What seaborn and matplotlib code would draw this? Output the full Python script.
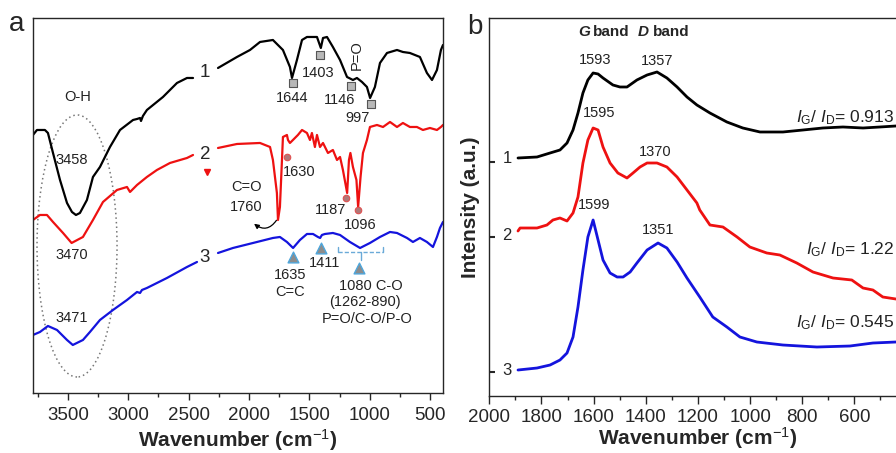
import matplotlib
matplotlib.use("Agg")
import matplotlib.pyplot as plt
from matplotlib.patches import Ellipse
from matplotlib.ticker import MultipleLocator
import pandas as pd
import seaborn as sns

# ---- panel a: FTIR, wavenumber (cm-1) vs transmittance (a.u., stacked) ----
ftir_wn_1 = [3790, 3757, 3691, 3666, 3624, 3566, 3508, 3467, 3434, 3401, 3343, 3293, 3235, 3152, 3069,
             2961, 2928, 2903, 2895, 2879, 2846, 2713, 2597, 2514, 2464, 2257, 2100, 1992, 1909, 1802,
             1719, 1661, 1644, 1603, 1561, 1520, 1437, 1405, 1387, 1354, 1305, 1246, 1188, 1139, 1106,
             1064, 1023, 997, 957, 915, 857, 774, 725, 667, 584, 526, 484, 443, 410, 393]
ftir_t_1 = [2.58, 2.63, 2.63, 2.60, 2.40, 2.13, 1.90, 1.81, 1.78, 1.80, 1.93, 2.16, 2.26, 2.46, 2.63,
            2.73, 2.74, 2.75, 2.72, 2.77, 2.83, 2.96, 3.10, 3.15, 3.15, 3.25, 3.36, 3.43, 3.51, 3.53,
            3.43, 3.26, 3.15, 3.33, 3.53, 3.56, 3.56, 3.45, 3.55, 3.56, 3.46, 3.33, 3.16, 3.13, 3.15,
            3.11, 3.06, 2.95, 3.06, 3.30, 3.40, 3.43, 3.41, 3.40, 3.36, 3.20, 3.13, 3.23, 3.43, 3.48]

ftir_wn_2 = [3790, 3732, 3674, 3624, 3541, 3470, 3376, 3293, 3210, 3094, 3011, 2986, 2928, 2846, 2763,
             2655, 2514, 2464, 2257, 2100, 1909, 1826, 1802, 1769, 1760, 1744, 1727, 1719, 1686, 1677,
             1661, 1636, 1595, 1561, 1520, 1495, 1479, 1454, 1437, 1412, 1387, 1346, 1305, 1271, 1246,
             1222, 1187, 1172, 1160, 1139, 1110, 1096, 1076, 1056, 1023, 998, 940, 890, 832, 774,
             725, 667, 609, 559, 501, 443, 410, 393]
ftir_t_2 = [1.73, 1.78, 1.78, 1.71, 1.60, 1.50, 1.56, 1.73, 1.91, 2.03, 2.06, 2.01, 2.08, 2.16, 2.23,
            2.30, 2.35, 2.38, 2.45, 2.49, 2.50, 2.46, 2.33, 2.00, 1.73, 1.86, 2.33, 2.56, 2.58, 2.53,
            2.50, 2.53, 2.58, 2.63, 2.60, 2.53, 2.60, 2.46, 2.58, 2.46, 2.50, 2.40, 2.43, 2.33, 2.36,
            2.23, 2.00, 2.33, 2.40, 2.26, 2.13, 1.86, 2.16, 2.40, 2.53, 2.66, 2.68, 2.66, 2.71, 2.66,
            2.70, 2.66, 2.66, 2.63, 2.65, 2.63, 2.66, 2.68]

ftir_wn_3 = [3790, 3732, 3666, 3591, 3508, 3460, 3376, 3318, 3235, 3127, 3011, 2928, 2903, 2887, 2846,
             2680, 2514, 2431, 2257, 2133, 1967, 1802, 1744, 1686, 1635, 1578, 1520, 1470, 1429, 1411,
             1396, 1371, 1305, 1246, 1164, 1080, 998, 915, 832, 774, 691, 642, 584, 526, 476,
             443, 418, 393]
ftir_t_3 = [0.58, 0.61, 0.67, 0.63, 0.53, 0.48, 0.53, 0.61, 0.73, 0.83, 0.93, 1.01, 1.00, 1.03, 1.05,
            1.15, 1.26, 1.31, 1.40, 1.45, 1.50, 1.55, 1.56, 1.51, 1.45, 1.53, 1.59, 1.59, 1.56, 1.55,
            1.58, 1.59, 1.60, 1.58, 1.51, 1.45, 1.50, 1.56, 1.61, 1.60, 1.55, 1.51, 1.55, 1.51, 1.46,
            1.56, 1.65, 1.71]

# ---- panel b: Raman, wavenumber (cm-1) vs intensity (a.u., stacked) ----
raman_wn_1 = [1890, 1817, 1767, 1729, 1702, 1679, 1660, 1641, 1622, 1602, 1583, 1564, 1526, 1499, 1472,
              1434, 1395, 1357, 1319, 1280, 1242, 1204, 1154, 1089, 1028, 962, 874, 797, 721, 644,
              567, 502, 441, 400]
raman_i_1 = [2.38, 2.39, 2.43, 2.46, 2.53, 2.66, 2.83, 3.03, 3.16, 3.23, 3.22, 3.18, 3.11, 3.09, 3.09,
             3.16, 3.21, 3.24, 3.18, 3.09, 2.99, 2.91, 2.83, 2.74, 2.68, 2.64, 2.64, 2.66, 2.68, 2.69,
             2.68, 2.69, 2.70, 2.70]

raman_wn_2 = [1890, 1882, 1817, 1779, 1756, 1729, 1702, 1679, 1660, 1641, 1622, 1602, 1583, 1564, 1537,
              1507, 1472, 1449, 1422, 1395, 1357, 1319, 1280, 1242, 1204, 1193, 1154, 1104, 1050, 1001,
              936, 886, 821, 759, 682, 610, 567, 529, 491, 441, 400]
raman_i_2 = [1.65, 1.68, 1.68, 1.71, 1.76, 1.78, 1.75, 1.83, 1.99, 2.33, 2.56, 2.68, 2.66, 2.49, 2.33,
             2.23, 2.18, 2.23, 2.29, 2.33, 2.33, 2.29, 2.19, 2.06, 1.93, 1.86, 1.71, 1.69, 1.59, 1.49,
             1.43, 1.41, 1.33, 1.24, 1.18, 1.16, 1.08, 1.06, 0.99, 0.97, 0.96]

raman_wn_3 = [1890, 1817, 1767, 1729, 1702, 1679, 1660, 1641, 1622, 1602, 1583, 1564, 1537, 1510, 1487,
              1460, 1434, 1395, 1353, 1319, 1280, 1242, 1193, 1143, 1089, 1039, 974, 874, 744, 617,
              529, 441, 400]
raman_i_3 = [0.26, 0.28, 0.31, 0.36, 0.43, 0.59, 0.89, 1.26, 1.59, 1.76, 1.56, 1.36, 1.23, 1.19, 1.19,
             1.24, 1.33, 1.46, 1.53, 1.48, 1.34, 1.18, 0.99, 0.79, 0.69, 0.59, 0.54, 0.51, 0.49, 0.50,
             0.53, 0.54, 0.55]

raman_ticks = [2000, 1800, 1600, 1400, 1200, 1000, 800, 600]
ratio_labels = ["0.913", "1.22", "0.545"]
colors = ["black", "#ee1111", "#1414dd"]

sns.set_style("ticks")
plt.rcParams["font.family"] = ["Liberation Sans", "DejaVu Sans"]
plt.rcParams["mathtext.fontset"] = "custom"
plt.rcParams["mathtext.rm"] = "Liberation Sans"
plt.rcParams["mathtext.it"] = "Liberation Sans:italic"
plt.rcParams["mathtext.bf"] = "Liberation Sans:bold"
plt.rcParams["axes.linewidth"] = 1.0

fig = plt.figure(figsize=(8.96, 4.53), dpi=100)
ax1 = fig.add_axes([0.0368, 0.1325, 0.4576, 0.8278])
ax2 = fig.add_axes([0.5461, 0.1258, 0.4657, 0.8345])

# === panel a ===
ftir = [(ftir_wn_1, ftir_t_1), (ftir_wn_2, ftir_t_2), (ftir_wn_3, ftir_t_3)]
for (wn, t), c in zip(ftir, colors):
    df = pd.DataFrame({"wn": wn, "t": t})
    df["seg"] = df["wn"] > 2350  # gap where the curve number sits
    sns.lineplot(data=df, x="wn", y="t", units="seg", estimator=None, sort=False,
                 color=c, lw=1.6, ax=ax1, legend=False)

ax1.set_xlim(3790, 393)
ax1.set_ylim(0, 3.75)
ax1.set_yticks([])
ax1.set_ylabel("")
ax1.xaxis.set_major_locator(MultipleLocator(500))
ax1.xaxis.set_minor_locator(MultipleLocator(250))
ax1.tick_params(axis="x", which="major", length=5, width=1, labelsize=13.5, pad=5)
ax1.tick_params(axis="x", which="minor", length=3, width=1)
ax1.set_xlabel("Wavenumber (cm$^{-1}$)", fontsize=15, fontweight="bold", labelpad=2)

fs = 10.5
for lab, y in zip(["1", "2", "3"], [3.20, 2.38, 1.35]):
    ax1.text(2365, y, lab, fontsize=13.5, ha="center", va="center")
ax1.plot(2348, 2.21, marker="v", color="#ee1111", ms=4)

ax1.add_patch(Ellipse((3425, 1.47), 663, 2.62, fill=False, ls=(0, (1, 2)), ec="#777777", lw=1.1))
ax1.text(3417, 2.96, "O-H", fontsize=fs, ha="center", va="center", color="#222222")
for lab, y in zip(["3458", "3470", "3471"], [2.33, 1.38, 0.75]):
    ax1.text(3467, y, lab, fontsize=fs, ha="center", va="center", color="#222222")

# curve 1 peaks
ax1.scatter([1636, 1412, 1155, 990], [3.10, 3.38, 3.07, 2.89], marker="s", s=40,
            facecolor="#b8b8b8", edgecolor="#555555", lw=0.8, zorder=5)
for lab, x, y in [("1644", 1644, 2.95), ("1403", 1429, 3.20), ("1146", 1247, 2.93), ("997", 1097, 2.75)]:
    ax1.text(x, y, lab, fontsize=fs, ha="center", va="center", color="#222222")
ax1.text(1106, 3.38, "P=O", fontsize=fs, ha="center", va="center", rotation=90, color="#222222")

# curve 2 peaks
ax1.scatter([1686, 1197, 1097], [2.36, 1.95, 1.83], marker="o", s=22,
            facecolor="#b07878", edgecolor="#e05050", lw=0.8, zorder=5)
for lab, x, y in [("1630", 1586, 2.21), ("1187", 1321, 1.83), ("1096", 1081, 1.68)]:
    ax1.text(x, y, lab, fontsize=fs, ha="center", va="center", color="#222222")
ax1.text(2025, 2.06, "C=O", fontsize=fs, ha="center", va="center", color="#222222")
ax1.text(2025, 1.86, "1760", fontsize=fs, ha="center", va="center", color="#222222")
ax1.annotate("", xy=(1976, 1.71), xytext=(1760, 1.75),
             arrowprops=dict(arrowstyle="-|>", connectionstyle="arc3,rad=-0.6",
                             color="black", lw=0.9, mutation_scale=7))

# curve 3 peaks
ax1.scatter([1636, 1404, 1089], [1.36, 1.45, 1.25], marker="^", s=60,
            facecolor="#8c8c8c", edgecolor="#4ea6dc", lw=1.0, zorder=5)
for lab, x, y in [("1635", 1661, 1.18), ("C=C", 1661, 1.01), ("1411", 1371, 1.30),
                  ("1080 C-O", 990, 1.07), ("(1262-890)", 1039, 0.91), ("P=O/C-O/P-O", 1023, 0.74)]:
    ax1.text(x, y, lab, fontsize=fs, ha="center", va="center", color="#222222")
br = "#6aaad8"
ax1.plot([1262, 1262], [1.46, 1.41], color=br, lw=1)
ax1.plot([890, 890], [1.46, 1.41], color=br, lw=1)
ax1.plot([1262, 890], [1.41, 1.41], color=br, lw=1, ls=(0, (3, 1.5)))
ax1.plot([1076, 1076], [1.41, 1.33], color=br, lw=1)

# === panel b ===
raman = [(raman_wn_1, raman_i_1), (raman_wn_2, raman_i_2), (raman_wn_3, raman_i_3)]
for (wn, inten), c in zip(raman, colors):
    df = pd.DataFrame({"wn": wn, "i": inten})
    sns.lineplot(data=df, x="wn", y="i", sort=False, color=c, lw=2.0, ax=ax2, legend=False)

ax2.set_xlim(2000, 400)
ax2.set_ylim(0, 3.78)
ax2.set_xticks(raman_ticks)
ax2.xaxis.set_minor_locator(MultipleLocator(100))
ax2.tick_params(axis="x", which="major", length=5.5, width=1, labelsize=13.5, pad=4)
ax2.tick_params(axis="x", which="minor", length=3, width=1)
ax2.set_yticks([0.24, 1.59, 2.34])
ax2.set_yticklabels([])
ax2.tick_params(axis="y", direction="in", length=4, width=1.5)
for tick, c in zip(ax2.yaxis.get_major_ticks(), colors[::-1]):
    tick.tick1line.set_color(c)
ax2.set_xlabel("Wavenumber (cm$^{-1}$)", fontsize=15, fontweight="bold", labelpad=-1)
ax2.set_ylabel("Intensity (a.u.)", fontsize=15, fontweight="bold", labelpad=3)

for lab, y in zip(["1", "2", "3"], [2.37, 1.61, 0.26]):
    ax2.text(1932, y, lab, fontsize=12, ha="center", va="center")

for letter, x in [("G", 1660), ("D", 1430)]:
    ax2.text(x, 3.64, letter, fontsize=11, fontweight="bold", style="italic", ha="left", va="center")
    ax2.annotate("band", xy=(x, 3.64), xytext=(10.5, 0), textcoords="offset points",
                 fontsize=11, fontweight="bold", ha="left", va="center")

for lab, x, y in [("1593", 1594, 3.36), ("1357", 1357, 3.35), ("1595", 1579, 2.83),
                  ("1370", 1365, 2.44), ("1599", 1599, 1.91), ("1351", 1353, 1.66)]:
    ax2.text(x, y, lab, fontsize=fs, ha="center", va="center", color="#222222")

for lab, y in zip(ratio_labels, [2.78, 1.46, 0.73]):
    ax2.text(446, y, r"$I_{\mathrm{G}}$/ $I_{\mathrm{D}}$= " + lab, fontsize=12.5, ha="right",
             va="center", color="#222222")

fig.text(0.019, 0.947, "a", fontsize=20, ha="center", va="center")
fig.text(0.530, 0.940, "b", fontsize=20, ha="center", va="center")

fig.savefig("out.png", dpi=100)
